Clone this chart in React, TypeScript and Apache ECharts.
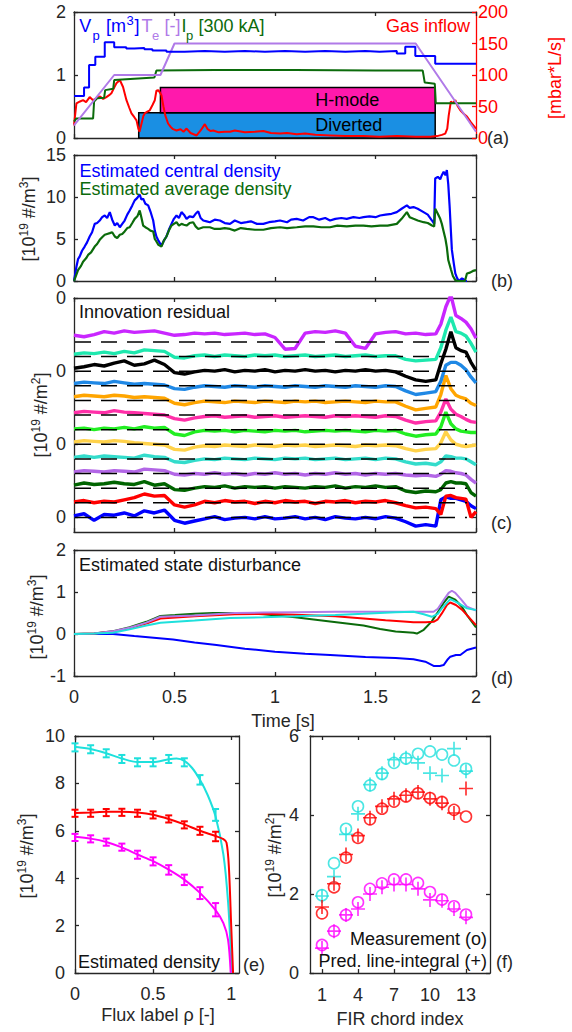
import React, { useEffect, useRef } from 'react';
import * as echarts from 'echarts';

const W = 572;
const H = 1032;
const FONT = '"Liberation Sans", Arial, Helvetica, sans-serif';
const AXC = '#262626';
const FS = 18;
const LH = 15;

// ---------------- (a) ----------------
const VP_STEPS = [[0,0.665],[0.05,0.8],[0.075,1.16],[0.106,1.29],[0.153,1.52],[0.2,1.44],[0.26,1.42],[0.3,1.43],[0.35,1.41],[0.39,1.39],[0.46,1.37],[0.55,1.38],[0.65,1.37],[0.75,1.38],[0.85,1.37],[0.95,1.38],[1.05,1.37],[1.15,1.38],[1.25,1.37],[1.35,1.38],[1.45,1.37],[1.52,1.38],[1.606,1.34],[1.648,1.45],[1.698,1.3],[1.797,1.18],[2.0,1.18]];
const TE_LINE = [[0,0.2],[0.2,1.0],[0.43,1.0],[0.5,1.5],[1.7,1.5],[2.0,0.1]];
const IP_LINE = [[0,0.26],[0.012,0.31],[0.095,0.31],[0.1,0.58],[0.115,0.63],[0.15,0.64],[0.155,0.76],[0.195,0.78],[0.2,0.92],[0.3,0.94],[0.4,0.96],[0.41,1.07],[0.7,1.08],[1.1,1.08],[1.5,1.07],[1.735,1.07],[1.745,0.88],[1.795,0.86],[1.8,0.55],[2.0,0.55]];
const GAS_INFLOW = [[0,20],[0.012,55],[0.03,58],[0.045,60],[0.06,57],[0.078,65],[0.095,60],[0.111,63],[0.13,66],[0.145,62],[0.161,65],[0.175,68],[0.186,71],[0.2,80],[0.211,87],[0.228,92],[0.244,81],[0.261,60],[0.275,48],[0.286,39],[0.3,33],[0.311,28],[0.32,15],[0.326,10],[0.336,23],[0.345,35],[0.352,39],[0.365,42],[0.377,44],[0.39,52],[0.402,60],[0.41,75],[0.419,76],[0.428,72],[0.435,68],[0.445,50],[0.455,35],[0.468,23],[0.48,18],[0.493,14],[0.51,12],[0.53,14],[0.545,10],[0.56,15],[0.58,8],[0.61,4],[0.63,12],[0.651,22],[0.665,14],[0.68,11],[0.693,12],[0.72,9],[0.75,10],[0.776,10],[0.8,12],[0.85,9],[0.9,10],[0.942,11],[0.98,8],[1.025,7],[1.06,8],[1.108,6],[1.15,7],[1.2,5],[1.274,4],[1.35,3],[1.44,3],[1.52,2],[1.606,3],[1.7,2],[1.772,2],[1.806,3],[1.83,5],[1.847,7],[1.857,15],[1.864,35],[1.875,58],[1.885,55],[1.897,60],[1.91,50],[1.922,44],[1.94,38],[1.955,34],[1.975,25],[2.0,15]];
const MODE_NAMES = ['Diverted', 'H-mode'];
const MODE_SPANS = [[0.322, 1.797, 0, 0.4], [0.43, 1.797, 0.4, 0.8]];
const MODE_LABEL_T = 1.2;

// ---------------- (b) ----------------
const CENTRAL_DENSITY = [[0,0],[0.012,1.7],[0.02,2.6],[0.028,2.9],[0.04,3.6],[0.053,4.1],[0.065,4.6],[0.078,5.3],[0.09,5.8],[0.103,6.8],[0.115,6.9],[0.128,7.2],[0.14,7.6],[0.153,7.8],[0.165,7.5],[0.178,8.2],[0.19,7.3],[0.203,6.6],[0.215,6.9],[0.228,6.4],[0.24,6.8],[0.252,7.2],[0.265,7.9],[0.277,8.4],[0.29,9.0],[0.302,9.6],[0.315,9.9],[0.327,10.3],[0.335,9.7],[0.344,9.8],[0.355,9.2],[0.369,9.0],[0.38,8.3],[0.394,7.2],[0.402,6.0],[0.41,5.3],[0.42,4.8],[0.435,4.2],[0.447,4.8],[0.46,5.3],[0.472,6.1],[0.485,6.8],[0.497,7.4],[0.51,7.8],[0.522,7.5],[0.535,8.2],[0.547,7.9],[0.56,7.4],[0.575,7.7],[0.593,7.6],[0.605,8.0],[0.618,8.3],[0.63,7.5],[0.643,7.2],[0.66,7.1],[0.676,7.0],[0.7,7.3],[0.726,7.2],[0.75,6.9],[0.776,6.8],[0.8,7.2],[0.83,6.9],[0.859,7.0],[0.88,7.1],[0.91,6.8],[0.942,6.8],[0.97,7.0],[1.0,7.1],[1.025,7.2],[1.06,7.0],[1.08,7.3],[1.108,7.4],[1.14,7.2],[1.17,7.6],[1.191,7.6],[1.22,7.3],[1.25,7.5],[1.274,7.2],[1.3,7.4],[1.33,7.5],[1.357,7.4],[1.39,7.6],[1.42,7.5],[1.44,7.6],[1.47,7.7],[1.5,7.6],[1.523,7.8],[1.55,7.9],[1.58,8.0],[1.606,8.2],[1.63,8.6],[1.656,9.0],[1.67,8.7],[1.689,8.8],[1.71,8.6],[1.739,8.2],[1.76,7.9],[1.781,7.2],[1.792,6.8],[1.797,12.2],[1.81,12.4],[1.822,12.1],[1.83,12.6],[1.839,13.0],[1.848,12.6],[1.855,13.2],[1.862,11.5],[1.869,8.8],[1.875,6.0],[1.88,3.7],[1.89,2.0],[1.897,0.9],[1.905,0.4],[1.914,0],[1.93,0.3],[1.938,0.2],[1.945,0],[1.955,0]];
const AVERAGE_DENSITY = [[0,0],[0.02,1.3],[0.035,1.8],[0.045,2.3],[0.06,2.7],[0.07,3.1],[0.085,3.4],[0.103,4.1],[0.115,4.4],[0.128,4.9],[0.14,5.2],[0.153,5.5],[0.165,5.6],[0.178,5.7],[0.19,5.8],[0.203,5.3],[0.215,5.1],[0.228,5.5],[0.24,5.6],[0.252,5.9],[0.265,6.3],[0.277,6.4],[0.29,6.9],[0.302,7.4],[0.315,7.7],[0.327,8.4],[0.335,7.6],[0.344,6.6],[0.355,6.4],[0.369,6.2],[0.38,6.0],[0.394,5.9],[0.402,5.0],[0.41,4.7],[0.42,4.3],[0.435,4.1],[0.447,4.8],[0.46,5.3],[0.472,6.0],[0.485,6.6],[0.497,6.8],[0.51,7.0],[0.522,6.6],[0.535,6.8],[0.547,6.7],[0.56,6.6],[0.575,6.9],[0.593,7.0],[0.605,6.5],[0.618,6.2],[0.643,6.4],[0.676,6.4],[0.7,6.2],[0.726,6.2],[0.75,6.3],[0.776,6.2],[0.8,6.0],[0.83,6.3],[0.859,6.2],[0.9,6.1],[0.942,6.1],[0.98,6.3],[1.025,6.4],[1.06,6.3],[1.108,6.4],[1.15,6.5],[1.191,6.5],[1.23,6.4],[1.274,6.4],[1.31,6.6],[1.357,6.5],[1.4,6.6],[1.44,6.6],[1.48,6.5],[1.523,6.6],[1.56,6.6],[1.606,6.8],[1.63,7.4],[1.656,8.2],[1.67,7.6],[1.689,7.4],[1.71,7.2],[1.739,7.0],[1.76,6.9],[1.781,6.6],[1.792,6.5],[1.797,8.6],[1.81,8.0],[1.822,7.4],[1.83,6.8],[1.839,5.9],[1.848,5.0],[1.855,4.0],[1.862,2.5],[1.875,1.4],[1.885,0.6],[1.897,0.1],[1.91,0],[1.945,0],[1.955,0.9],[1.97,1.0],[1.985,1.2],[2.0,1.3]];

// ---------------- (c) ----------------
const RESID_T = [0,0.05,0.1,0.15,0.2,0.25,0.3,0.35,0.4,0.45,0.5,0.55,0.6,0.65,0.7,0.75,0.8,0.85,0.9,0.95,1,1.05,1.1,1.15,1.2,1.25,1.3,1.35,1.4,1.45,1.5,1.55,1.6,1.65,1.7,1.75,1.8,1.825,1.85,1.875,1.9,1.925,1.95,1.975,2];
const RES_CH1 = [0.1,0.25,-0.2,0.2,0.15,0.3,0.1,0.45,0.3,0.5,-0.2,-0.4,-0.25,-0.1,0.05,-0.15,-0.05,0,-0.1,0.05,-0.1,-0.05,0.05,-0.1,0,-0.15,0.05,-0.05,-0.1,0,-0.1,0.05,-0.05,-0.3,-0.6,-0.5,-0.6,1.2,1.4,1.3,1.3,1.2,1.1,0.8,0.6];
const RES_CH2 = [0.05,0.15,0,0.1,0.05,0.2,0.35,0.6,0.45,0.5,-0.15,-0.3,-0.15,0.1,0,0.15,0.05,0.1,-0.05,0.1,0,0.15,0.05,0.1,-0.05,0.1,0.05,0.15,0,0.1,0.05,0.15,0,-0.2,-0.35,-0.3,-0.4,-0.8,0.45,0.5,0.35,0.3,0.25,-1.0,-0.6];
const RES_CH3 = [0.2,0.35,0.25,0.3,0.4,0.3,0.25,0.45,0.2,0.3,-0.1,-0.15,0,0.1,0.05,0.15,0,0.1,0.05,0.1,0,0.1,0.05,0,0.1,0.05,0.15,0,0.1,0.05,0.15,0.05,0.1,-0.2,-0.3,-0.2,-0.25,-0.1,0.35,0.45,0.35,0.35,0.3,-0.3,-0.55];
const RES_CH4 = [0.1,0.2,0.15,0.1,0.2,0.15,0.1,0.3,0.25,0.2,-0.05,-0.1,0,-0.05,0.05,-0.05,0,-0.1,0,-0.05,0.05,-0.05,0,-0.1,0,-0.05,0.05,-0.05,0,-0.1,0,-0.05,0,-0.1,-0.15,-0.1,-0.2,-0.05,0.2,0.15,0.05,0,-0.1,-0.4,-0.65];
const RES_CH5 = [0.1,0.2,0.1,0.2,0.15,0.1,0.05,0.25,0.15,0.1,-0.2,-0.25,-0.1,0,-0.05,0.05,0,-0.05,0.05,0,-0.05,0.05,0,0.05,-0.05,0,0.05,-0.05,0,0.05,-0.05,0.05,0,-0.2,-0.35,-0.3,-0.4,-0.2,0.2,0.15,0.05,0.05,0,-0.2,-0.4];
const RES_CH6 = [0.15,0.25,0.2,0.15,0.25,0.2,0.1,0.05,0,-0.05,-0.35,-0.4,-0.2,-0.1,-0.15,-0.05,-0.1,-0.15,-0.05,-0.1,-0.15,-0.05,-0.1,-0.05,-0.15,-0.1,-0.05,-0.1,-0.15,-0.05,-0.1,-0.05,-0.1,-0.3,-0.45,-0.35,-0.3,0.1,0.85,0.3,0,-0.1,-0.15,-0.1,-0.05];
const RES_CH7 = [0.05,0.1,0,0.1,0.05,0.15,0.05,0.2,0.1,0.15,-0.3,-0.4,-0.15,-0.05,-0.1,-0.05,-0.15,-0.05,-0.1,-0.15,-0.05,-0.1,-0.05,-0.15,-0.1,-0.05,-0.1,-0.05,-0.1,-0.15,-0.05,-0.1,-0.05,-0.3,-0.45,-0.35,-0.3,0.2,1.2,0.4,0.05,-0.1,-0.15,-0.2,-0.2];
const RES_CH8 = [0.15,0.25,0.2,0.15,0.3,0.2,0.15,0.1,0.05,0,-0.25,-0.35,-0.2,-0.1,-0.05,-0.15,-0.1,-0.05,-0.15,-0.1,-0.05,-0.15,-0.1,-0.05,-0.1,-0.15,-0.05,-0.1,-0.05,-0.1,-0.15,-0.05,-0.1,-0.35,-0.55,-0.45,-0.4,0.2,1.1,0.4,0.05,-0.1,-0.3,-0.45,-0.5];
const RES_CH9 = [0.25,0.35,0.3,0.25,0.35,0.3,0.2,0.25,0.2,0.15,-0.2,-0.3,-0.15,-0.05,-0.1,-0.15,-0.05,-0.1,-0.15,-0.05,-0.1,-0.15,-0.05,-0.1,-0.05,-0.15,-0.1,-0.05,-0.1,-0.15,-0.05,-0.1,-0.1,-0.4,-0.65,-0.55,-0.45,0.4,1.7,0.8,0.35,0.2,0.1,-0.2,-0.35];
const RES_CH10 = [0.15,0.25,0.2,0.15,0.3,0.2,0.1,0.15,0.1,0.05,-0.2,-0.25,-0.1,0,-0.05,-0.1,0,-0.05,-0.1,0,-0.05,-0.1,0,-0.05,-0.1,0,-0.05,-0.1,0,-0.05,-0.1,0,-0.05,-0.35,-0.6,-0.5,-0.4,0.3,1.4,1.6,1.6,1.4,1.1,0.6,0.2];
const RES_CH11 = [0.2,0.3,0.45,0.35,0.55,0.7,0.4,0.5,0.75,0.45,-0.1,-0.2,-0.05,0.05,0,0.1,-0.05,0.05,0,0.1,-0.05,0.05,0,0.1,0,0.05,-0.05,0.05,0,0.1,0,0.05,-0.05,-0.35,-0.6,-0.7,-0.6,0.5,1.5,2.7,1.6,1.4,1.3,0.6,0.05];
const RES_CH12 = [0.15,0.25,0.2,0.3,0.2,0.35,0.25,0.45,0.4,0.35,-0.05,-0.1,0.05,0.1,0,0.1,0.05,0,0.1,0.05,0.1,0,0.05,0.1,0,0.05,0.1,0,0.05,0.1,0,0.05,0.05,-0.2,-0.3,-0.25,-0.2,0.6,1.8,2.7,1.7,1.6,1.4,0.9,0.3];
const RES_CH13 = [0.45,0.35,0.5,0.7,0.6,0.75,0.65,0.7,0.75,0.6,0.45,0.5,0.6,0.55,0.6,0.5,0.55,0.6,0.5,0.55,0.3,-0.5,-0.45,0.6,0.7,0.65,0.75,0.6,-0.3,-0.45,0.55,0.65,0.7,0.55,0.6,0.5,0.55,1.2,2.4,3.2,1.8,1.6,1.35,0.9,0.25];
const RESIDUALS = [RES_CH1, RES_CH2, RES_CH3, RES_CH4, RES_CH5, RES_CH6, RES_CH7, RES_CH8, RES_CH9, RES_CH10, RES_CH11, RES_CH12, RES_CH13];
const RES_COLORS = ['#0000ff', '#ff0000', '#006400', '#b266e6', '#33dccb', '#ffd24a', '#22ee22', '#ff2fa8', '#ffa500', '#1f88e5', '#000000', '#1ee8ae', '#c926ff'];

// ---------------- (d) ----------------
const DIST_BLUE = [[0,0],[0.194,0],[0.3,-0.05],[0.493,-0.13],[0.6,-0.2],[0.709,-0.26],[0.85,-0.35],[1.0,-0.42],[1.15,-0.47],[1.274,-0.5],[1.45,-0.55],[1.6,-0.57],[1.689,-0.6],[1.748,-0.66],[1.789,-0.76],[1.82,-0.76],[1.839,-0.74],[1.86,-0.6],[1.872,-0.54],[1.9,-0.5],[1.922,-0.5],[1.955,-0.38],[2.0,-0.32]];
const DIST_GREEN = [[0,0],[0.1,0.01],[0.2,0.07],[0.277,0.16],[0.36,0.29],[0.43,0.43],[0.502,0.45],[0.6,0.48],[0.693,0.5],[0.8,0.5],[0.942,0.47],[1.1,0.4],[1.274,0.3],[1.44,0.2],[1.523,0.12],[1.6,0.06],[1.689,0.03],[1.706,0.01],[1.74,0.1],[1.78,0.3],[1.806,0.49],[1.84,0.75],[1.864,0.89],[1.897,0.82],[1.93,0.65],[1.955,0.45],[2.0,0.16]];
const DIST_RED = [[0,0],[0.1,0.01],[0.2,0.06],[0.277,0.14],[0.36,0.25],[0.43,0.37],[0.6,0.42],[0.8,0.47],[0.942,0.48],[1.1,0.46],[1.3,0.42],[1.44,0.37],[1.55,0.33],[1.64,0.3],[1.689,0.28],[1.75,0.28],[1.789,0.29],[1.81,0.35],[1.83,0.49],[1.857,0.7],[1.872,0.75],[1.9,0.69],[1.93,0.58],[1.955,0.45],[2.0,0.21]];
const DIST_PURPLE = [[0,0],[0.1,0.01],[0.2,0.07],[0.277,0.15],[0.36,0.27],[0.43,0.41],[0.6,0.44],[0.8,0.5],[0.942,0.51],[1.1,0.52],[1.3,0.53],[1.5,0.53],[1.689,0.53],[1.789,0.53],[1.81,0.6],[1.839,0.81],[1.864,0.98],[1.88,1.03],[1.897,0.98],[1.93,0.8],[1.955,0.65],[2.0,0.56]];
const DIST_CYAN = [[0,0],[0.1,0.01],[0.194,0.03],[0.277,0.11],[0.36,0.2],[0.43,0.27],[0.6,0.32],[0.776,0.38],[0.942,0.4],[1.1,0.42],[1.3,0.45],[1.44,0.48],[1.6,0.52],[1.689,0.53],[1.74,0.47],[1.78,0.41],[1.81,0.48],[1.83,0.61],[1.872,0.83],[1.91,0.74],[1.955,0.61],[2.0,0.57]];

// ---------------- (e) ----------------
const PROF_CYAN = [[0,9.55],[0.1,9.45],[0.2,9.27],[0.3,9.05],[0.4,8.9],[0.5,8.9],[0.6,9.02],[0.65,9.05],[0.7,8.95],[0.75,8.65],[0.8,8.15],[0.85,7.5],[0.9,6.6],[0.95,5.0],[0.98,3.0],[1.0,0.6],[1.005,0]];
const PROF_RED = [[0,6.75],[0.1,6.77],[0.2,6.8],[0.3,6.8],[0.4,6.77],[0.5,6.68],[0.6,6.5],[0.7,6.27],[0.8,6.0],[0.9,5.78],[0.95,5.65],[0.97,5.5],[0.985,4.5],[1.0,2.0],[1.012,0]];
const PROF_MAG = [[0,5.75],[0.1,5.67],[0.2,5.53],[0.3,5.3],[0.4,5.0],[0.5,4.72],[0.6,4.36],[0.7,3.94],[0.8,3.38],[0.9,2.65],[0.95,2.1],[0.98,1.4],[0.997,0]];
const RHO_PTS = [0, 0.1, 0.2, 0.3, 0.4, 0.5, 0.6, 0.7, 0.8, 0.9];
const PTS_CYAN = [9.52, 9.44, 9.27, 9.03, 8.89, 8.89, 9.03, 8.89, 8.15, 6.67];
const ERR_CYAN = [0.17, 0.17, 0.17, 0.17, 0.17, 0.17, 0.17, 0.17, 0.2, 0.25];
const PTS_RED = [6.74, 6.74, 6.77, 6.78, 6.74, 6.67, 6.5, 6.25, 6.0, 5.76];
const ERR_RED = [0.15, 0.15, 0.15, 0.15, 0.15, 0.15, 0.15, 0.15, 0.17, 0.2];
const PTS_MAG = [5.72, 5.66, 5.52, 5.31, 4.99, 4.71, 4.35, 3.93, 3.37, 2.67];
const ERR_MAG = [0.15, 0.15, 0.15, 0.15, 0.17, 0.17, 0.2, 0.22, 0.25, 0.28];

// ---------------- (f) ----------------
const CHORDS = [1, 2, 3, 4, 5, 6, 7, 8, 9, 10, 11, 12, 13];
const CHORD_TICKS = [1, 4, 7, 10, 13];
const MEAS_CYAN = [1.97, 2.78, 3.65, 4.22, 4.75, 5.04, 5.32, 5.43, 5.55, 5.61, 5.53, 5.38, 5.17];
const PRED_CYAN = [1.95, 2.44, 3.51, 4.03, 4.77, 5.06, 5.4, 5.45, 5.32, 5.06, 5.0, 5.68, 5.11];
const MEAS_RED = [1.51, 2.17, 2.92, 3.42, 3.89, 4.16, 4.34, 4.47, 4.55, 4.43, 4.33, 4.13, 3.96];
const PRED_RED = [1.67, 2.26, 3.0, 3.48, 3.93, 4.22, 4.41, 4.5, 4.58, 4.41, 4.3, 4.05, 4.67];
const MEAS_MAG = [0.71, 1.06, 1.47, 1.79, 2.13, 2.27, 2.37, 2.37, 2.28, 2.05, 1.86, 1.69, 1.48];
const PRED_MAG = [0.63, 1.06, 1.47, 1.62, 2.0, 2.17, 2.24, 2.24, 2.13, 1.85, 1.83, 1.62, 1.41];

// ---------------- styling ----------------
const C_BLUE = '#0000ff';
const C_GREEN = '#0b6b0b';
const C_PURPLE = '#b07ae8';
const C_RED = '#ff0000';
const C_CYAN = '#1ee0dc';
const C_MAG = '#ff00ff';
const MODE_COLORS = ['#1a8fe3', '#ff19ac'];
const PLUS = 'path://M4.4,0H5.6V4.4H10V5.6H5.6V10H4.4V5.6H0V4.4H4.4Z';

const GRIDS = [
  { left: 74, top: 12, width: 402, height: 126 },
  { left: 74, top: 155, width: 402, height: 126 },
  { left: 74, top: 298, width: 402, height: 234 },
  { left: 74, top: 550, width: 402, height: 126 },
  { left: 75, top: 736, width: 164, height: 237 },
  { left: 310, top: 736, width: 180, height: 237 },
];

const lst = (c: string = AXC) => ({ color: c, width: 1.3 });

function mkX(gi: number, position: string, min: number, max: number, o: any = {}) {
  return {
    type: 'value', gridIndex: gi, position, min, max, interval: o.interval,
    axisLine: { show: true, onZero: false, lineStyle: lst() },
    axisTick: { show: true, inside: true, length: 4, lineStyle: lst(), customValues: o.custom },
    axisLabel: {
      show: position === 'bottom' && !!o.labels, color: AXC, fontSize: FS, fontFamily: FONT, lineHeight: LH,
      margin: o.margin ?? 13, customValues: o.custom, showMinLabel: true, showMaxLabel: true, hideOverlap: false,
    },
    splitLine: { show: false },
  };
}

function mkY(gi: number, position: string, min: number, max: number, o: any = {}) {
  const c = o.color || AXC;
  return {
    type: 'value', gridIndex: gi, position, min, max, interval: o.interval,
    axisLine: { show: true, onZero: false, lineStyle: lst(c) },
    axisTick: { show: true, inside: true, length: 4, lineStyle: lst(c), customValues: o.custom },
    axisLabel: {
      show: !!o.labels, color: c, fontSize: FS, fontFamily: FONT, lineHeight: LH, margin: o.margin ?? 8,
      customValues: o.custom, formatter: o.formatter, showMinLabel: true, showMaxLabel: true, hideOverlap: false,
    },
    splitLine: { show: false },
  };
}

const T = (x: number, y: number, text: string, o: any = {}) => ({
  type: 'text', x, y, z: 100, rotation: o.rot || 0,
  style: {
    text, fill: o.color || '#111', fontSize: o.size || FS, fontFamily: FONT, lineHeight: o.rich ? undefined : LH,
    align: o.align || 'left', verticalAlign: 'middle', rich: o.rich,
  },
});

const supRich = (color: string) => ({
  n: { fontSize: FS, fontFamily: FONT, fill: color, lineHeight: 22 },
  s: { fontSize: 12, fontFamily: FONT, fill: color, lineHeight: 12, verticalAlign: 'top' },
});
const yName = (x: number, y: number, unit: string) =>
  T(x, y, `{n|[10}{s|19}{n| #/m}{s|${unit}}{n|]}`, { rot: Math.PI / 2, align: 'center', color: AXC, rich: supRich(AXC) });

function line(xi: number, data: any, color: string, o: any = {}) {
  return {
    type: 'line', xAxisIndex: xi, yAxisIndex: o.yi ?? xi, data, symbol: 'none', step: o.step,
    smooth: o.smooth, lineStyle: { color, width: o.width ?? 2 }, z: o.z ?? 3, silent: true, clip: true,
  };
}

function errBars(vals: number[], errs: number[], color: string) {
  return {
    type: 'custom', xAxisIndex: 8, yAxisIndex: 8, z: 4, silent: true,
    data: RHO_PTS.map((r, i) => [r, vals[i], errs[i]]),
    renderItem: (_p: any, api: any) => {
      const x = api.value(0), y = api.value(1), e = api.value(2);
      const a = api.coord([x, y + e]);
      const b = api.coord([x, y - e]);
      const w = 3.5;
      const st = { stroke: color, lineWidth: 2 };
      return {
        type: 'group', children: [
          { type: 'line', shape: { x1: a[0], y1: a[1], x2: b[0], y2: b[1] }, style: st },
          { type: 'line', shape: { x1: a[0] - w, y1: a[1], x2: a[0] + w, y2: a[1] }, style: st },
          { type: 'line', shape: { x1: b[0] - w, y1: b[1], x2: b[0] + w, y2: b[1] }, style: st },
        ],
      };
    },
  };
}

function scat(vals: number[], color: string, plus: boolean) {
  return {
    type: 'scatter', xAxisIndex: 10, yAxisIndex: 10, silent: true, z: plus ? 5 : 4,
    data: CHORDS.map((k, i) => [k, vals[i]]),
    symbol: plus ? PLUS : 'circle', symbolSize: plus ? 14 : 11,
    itemStyle: plus ? { color } : { color: 'rgba(0,0,0,0)', borderColor: color, borderWidth: 1.6 },
  };
}

function buildOption() {
  const xAxis: any[] = [];
  const yAxis: any[] = [];
  for (let g = 0; g < 4; g++) {
    xAxis.push(mkX(g, 'bottom', 0, 2, { interval: 0.5, labels: g === 3 }));
    xAxis.push(mkX(g, 'top', 0, 2, { interval: 0.5 }));
  }
  xAxis.push(mkX(4, 'bottom', 0, 1.05, { custom: [0, 0.5, 1], labels: true }));
  xAxis.push(mkX(4, 'top', 0, 1.05, { custom: [0, 0.5, 1] }));
  xAxis.push(mkX(5, 'bottom', 0, 15, { custom: CHORD_TICKS, labels: true, margin: 14 }));
  xAxis.push(mkX(5, 'top', 0, 15, { custom: CHORD_TICKS }));

  yAxis.push(mkY(0, 'left', 0, 2, { interval: 1, labels: true }));
  yAxis.push(mkY(0, 'right', 0, 200, { interval: 50, labels: true, color: C_RED, margin: 2 }));
  yAxis.push(mkY(1, 'left', 0, 15, { interval: 5, labels: true }));
  yAxis.push(mkY(1, 'right', 0, 15, { interval: 5 }));
  yAxis.push(mkY(2, 'left', -1, 15, { custom: [0, 5, 10, 15], labels: true, formatter: () => '0' }));
  yAxis.push(mkY(2, 'right', -1, 15, { custom: [0, 5, 10, 15] }));
  yAxis.push(mkY(3, 'left', -1, 2, { interval: 1, labels: true }));
  yAxis.push(mkY(3, 'right', -1, 2, { interval: 1 }));
  yAxis.push(mkY(4, 'left', 0, 10, { interval: 2, labels: true, margin: 10 }));
  yAxis.push(mkY(4, 'right', 0, 10, { interval: 2 }));
  yAxis.push(mkY(5, 'left', 0, 6, { interval: 2, labels: true, margin: 11 }));
  yAxis.push(mkY(5, 'right', 0, 6, { interval: 2 }));

  const series: any[] = [];
  // (a)
  series.push({
    type: 'custom', xAxisIndex: 0, yAxisIndex: 0, z: 1, silent: true,
    data: MODE_SPANS,
    renderItem: (params: any, api: any) => {
      const i = params.dataIndex;
      const p0 = api.coord([api.value(0), api.value(3)]);
      const p1 = api.coord([api.value(1), api.value(2)]);
      const lp = api.coord([MODE_LABEL_T, (api.value(2) + api.value(3)) / 2]);
      return {
        type: 'group', children: [
          { type: 'rect', shape: { x: p0[0], y: p0[1], width: p1[0] - p0[0], height: p1[1] - p0[1] }, style: { fill: MODE_COLORS[i], stroke: '#000', lineWidth: 1.5 } },
          { type: 'text', x: lp[0], y: lp[1], style: { text: MODE_NAMES[i], fill: '#000', fontSize: FS, fontFamily: FONT, align: 'left', verticalAlign: 'middle' } },
        ],
      };
    },
  });
  series.push(line(0, GAS_INFLOW, C_RED, { yi: 1, width: 2 }));
  series.push(line(0, IP_LINE, C_GREEN, { width: 2 }));
  series.push(line(0, TE_LINE, C_PURPLE, { width: 2 }));
  series.push(line(0, VP_STEPS, C_BLUE, { step: 'end', width: 2 }));
  // (b)
  series.push(line(2, CENTRAL_DENSITY, C_BLUE, { yi: 2, width: 2.2 }));
  series.push(line(2, AVERAGE_DENSITY, C_GREEN, { yi: 2, width: 2.2 }));
  // (c)
  RESIDUALS.forEach((vals, k) => {
    series.push(line(4, RESID_T.map((t, i) => [t, k + vals[i]]), RES_COLORS[k], { yi: 4, width: 3.4 }));
  });
  RESIDUALS.forEach((_v, k) => {
    series.push({
      type: 'line', xAxisIndex: 4, yAxisIndex: 4, data: [[0.005, k], [1.955, k]], symbol: 'none', silent: true, z: 6,
      lineStyle: { color: '#000', width: 1.5, type: [16, 10] },
    });
  });
  // (d)
  series.push(line(6, DIST_BLUE, C_BLUE, { yi: 6 }));
  series.push(line(6, DIST_GREEN, C_GREEN, { yi: 6 }));
  series.push(line(6, DIST_RED, C_RED, { yi: 6 }));
  series.push(line(6, DIST_PURPLE, C_PURPLE, { yi: 6 }));
  series.push(line(6, DIST_CYAN, C_CYAN, { yi: 6 }));
  // (e)
  series.push(line(8, PROF_CYAN, C_CYAN, { yi: 8, smooth: 0.3 }));
  series.push(line(8, PROF_MAG, C_MAG, { yi: 8, smooth: 0.3 }));
  series.push(line(8, PROF_RED, C_RED, { yi: 8, smooth: 0.3 }));
  series.push(errBars(PTS_CYAN, ERR_CYAN, C_CYAN));
  series.push(errBars(PTS_RED, ERR_RED, C_RED));
  series.push(errBars(PTS_MAG, ERR_MAG, C_MAG));
  // (f)
  series.push(scat(MEAS_CYAN, C_CYAN, false));
  series.push(scat(MEAS_RED, C_RED, false));
  series.push(scat(MEAS_MAG, C_MAG, false));
  series.push(scat(PRED_CYAN, C_CYAN, true));
  series.push(scat(PRED_RED, C_RED, true));
  series.push(scat(PRED_MAG, C_MAG, true));

  const sub = 13;
  const graphic: any[] = [
    // (a) legend pieces
    T(79.3, 26, 'V', { color: C_BLUE }),
    T(92.5, 35, 'p', { color: C_BLUE, size: sub }),
    T(106, 26, '[m', { color: C_BLUE }),
    T(126.5, 20, '3', { color: C_BLUE, size: sub }),
    T(134.5, 26, ']', { color: C_BLUE }),
    T(141.5, 26, 'T', { color: C_PURPLE }),
    T(152, 35, 'e', { color: C_PURPLE, size: sub }),
    T(164.5, 26, '[-]', { color: C_PURPLE }),
    T(181.5, 26, 'I', { color: C_GREEN }),
    T(186, 35, 'p', { color: C_GREEN, size: sub }),
    T(198.5, 26, '[300 kA]', { color: C_GREEN }),
    T(470, 26, 'Gas inflow', { color: C_RED, align: 'right' }),
    T(555, 78, '[mbar*L/s]', { color: C_RED, rot: Math.PI / 2, align: 'center' }),
    T(487, 138, '(a)', { color: AXC }),
    // (b)
    T(79.5, 171, 'Estimated central density', { color: C_BLUE }),
    T(79.5, 189, 'Estimated average density', { color: C_GREEN }),
    yName(29, 219, '3'),
    T(491, 281, '(b)', { color: AXC }),
    // (c)
    T(79, 312, 'Innovation residual'),
    yName(41, 415, '2'),
    T(491, 523, '(c)', { color: AXC }),
    // (d)
    T(79, 565, 'Estimated state disturbance'),
    yName(37, 617, '3'),
    T(491, 678, '(d)', { color: AXC }),
    T(283, 721, 'Time [s]', { color: AXC, align: 'center' }),
    // (e)
    T(78, 962, 'Estimated density'),
    yName(27, 856, '3'),
    T(243, 965, '(e)', { color: AXC }),
    T(158, 1015, 'Flux label \u03c1 [-]', { color: AXC, align: 'center' }),
    // (f)
    T(487, 939, 'Measurement (o)', { align: 'right' }),
    T(487, 961, 'Pred. line-integral (+)', { align: 'right' }),
    yName(275, 855, '2'),
    T(496, 962, '(f)', { color: AXC }),
    T(400, 1019, 'FIR chord index', { color: AXC, align: 'center' }),
  ];

  return {
    animation: false,
    backgroundColor: '#ffffff',
    textStyle: { fontFamily: FONT },
    grid: GRIDS.map((g) => ({ ...g, containLabel: false, outerBoundsMode: 'none' })),
    xAxis,
    yAxis,
    series,
    graphic,
  };
}

export default function App() {
  const ref = useRef<HTMLDivElement>(null);
  useEffect(() => {
    const chart = echarts.init(ref.current as HTMLDivElement, null, { renderer: 'svg' });
    chart.setOption(buildOption() as any);
    return () => chart.dispose();
  }, []);
  return (
    <div
      ref={ref}
      style={{ position: 'absolute', left: 0, top: 0, width: W, height: H, background: '#fff' }}
    />
  );
}
